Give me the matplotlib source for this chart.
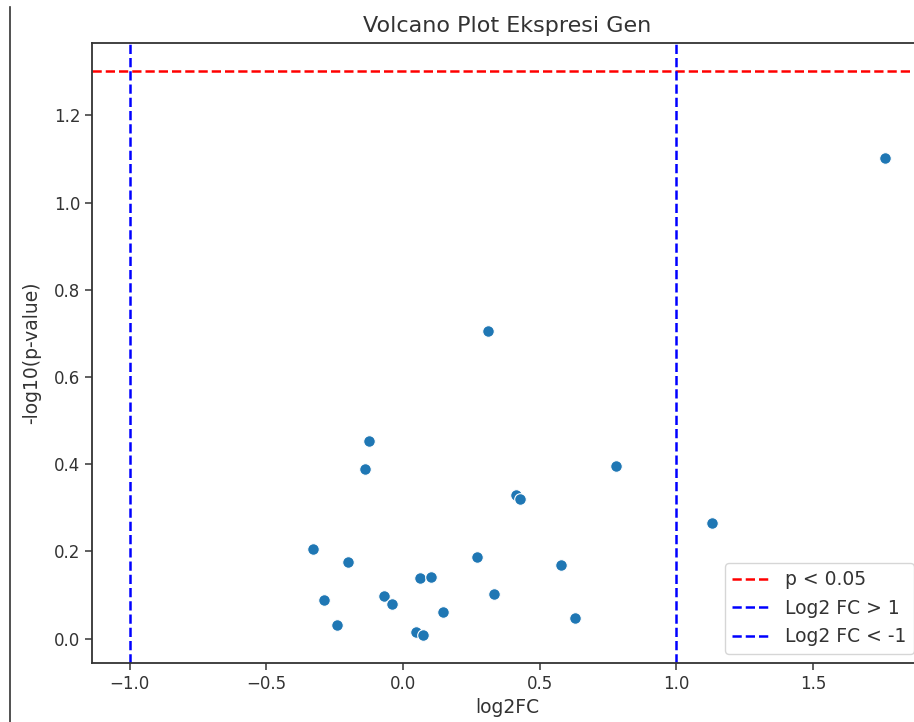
import matplotlib
matplotlib.use("Agg")
import matplotlib.pyplot as plt
from matplotlib.lines import Line2D
import numpy as np

log2fc = [0.311, -0.124, -0.139, 0.779, 0.414, 0.426, -0.328, -0.202, 0.272, 0.577,
          0.063, 0.102, -0.290, -0.071, -0.040, 0.332, 0.145, -0.241, 0.046, 0.073,
          0.630, 1.130, 1.764]
neglog10p = [0.705, 0.4525, 0.388, 0.395, 0.330, 0.320, 0.206, 0.175, 0.188, 0.170,
             0.139, 0.142, 0.089, 0.097, 0.080, 0.102, 0.062, 0.031, 0.015, 0.009,
             0.047, 0.266, 1.102]
p_threshold = 0.05
fc_threshold = 1
title = "Volcano Plot Ekspresi Gen"

plt.rcParams['font.family'] = ['DejaVu Sans']
plt.rcParams['font.size'] = 12
txt = '#333333'
plt.rcParams['text.color'] = txt
plt.rcParams['axes.labelcolor'] = txt
plt.rcParams['xtick.color'] = '#444444'
plt.rcParams['ytick.color'] = '#444444'
plt.rcParams['xtick.labelcolor'] = txt
plt.rcParams['ytick.labelcolor'] = txt

fig = plt.figure(figsize=(9.14, 7.22), dpi=100)
W, H = 914, 722
ax = fig.add_axes([92 / W, 1 - 663 / H, (923 - 92) / W, (663 - 43) / H])

ax.scatter(log2fc, neglog10p, s=70, color='#1f77b4', edgecolor='white', linewidth=0.8, zorder=3)
ax.axhline(-np.log10(p_threshold), color='red', linestyle='--', lw=1.8, label='p < 0.05')
ax.axvline(fc_threshold, color='blue', linestyle='--', lw=1.8, label='Log2 FC > 1')
ax.axvline(-fc_threshold, color='blue', linestyle='--', lw=1.8, label='Log2 FC < -1')

ax.set_title(title, fontsize=16, pad=8)
ax.set_xlabel('log2FC', fontsize=13.5)
ax.set_ylabel('-log10(p-value)', fontsize=13.5, labelpad=9)
ax.tick_params(labelsize=12, width=1.2, length=5)
for s in ax.spines.values():
    s.set_linewidth(1.3)
    s.set_color('#333333')
ax.legend(loc='lower right', fontsize=13.5)

fig.add_artist(Line2D([10 / W, 10 / W], [0, 1 - 7 / H], color='#333333', lw=1.2))

fig.savefig('out.png', dpi=100)
